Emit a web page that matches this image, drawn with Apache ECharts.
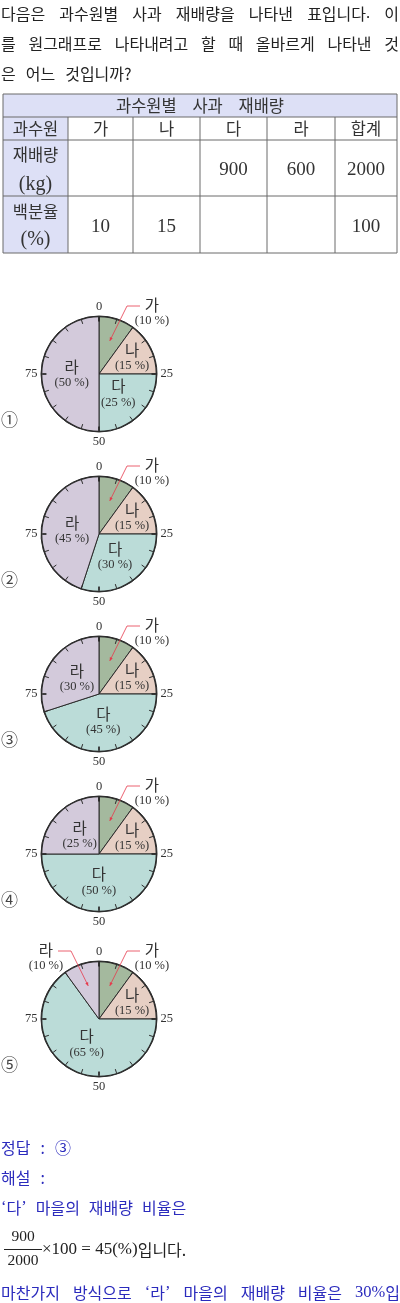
<!DOCTYPE html>
<html><head><meta charset="utf-8">
<script src="https://cdn.jsdelivr.net/npm/echarts@6/dist/echarts.min.js"></script>
<style>html,body{margin:0;padding:0;background:#fff}#c{width:400px;height:1303px}</style>
</head><body><div id="c"></div>
<script>
// ---------- data ----------
const questionLines = ['다음은 과수원별 사과 재배량을 나타낸 표입니다. 이', '를 원그래프로 나타내려고 할 때 올바르게 나타낸 것', '은 어느 것입니까?'];
const tableTitle = '과수원별 사과 재배량';
const rowHeads = ['과수원', '재배량', '(kg)', '백분율', '(%)'];
const orchards = ['가', '나', '다', '라', '합계'];
const amountsKg = [null, null, 900, 600, 2000];
const percents = [10, 15, null, null, 100];
const sliceNames = ['가', '나', '다', '라'];
const choice1 = [10, 15, 25, 50];
const choice2 = [10, 15, 30, 45];
const choice3 = [10, 15, 45, 30];
const choice4 = [10, 15, 50, 25];
const choice5 = [10, 15, 65, 10];
const choiceMarks = ['①', '②', '③', '④', '⑤'];
const quarterLabels = ['0', '25', '50', '75'];
const answerLines = ['정답 : ③', '해설 :', '‘다’ 마을의 재배량 비율은'];
const lastLine = '마찬가지 방식으로 ‘라’ 마을의 재배량 비율은 30%입';

// ---------- style / layout ----------
const KR = '"Noto Sans CJK KR", sans-serif';
const SERIF = '"Liberation Serif", "DejaVu Serif", serif';
const sliceColors = ['#a4b99e', '#e6cfc4', '#bbdcd8', '#d3cadb'];
const LINE = '#2b2b2b';
const RED = '#e63a4c';
const BLUE = '#2b2bbd';
const R = 58;
const pieCenters = [[99, 374], [99, 534], [99, 694], [99, 854], [99, 1019]];
const choices = [choice1, choice2, choice3, choice4, choice5];

const mctx = document.createElement('canvas').getContext('2d');
function tw(str, size, family) { mctx.font = size + 'px ' + family; return mctx.measureText(str).width; }

const els = [];
function T(x, y, text, size, family, color, align) {
  return { type: 'text', x: x, y: y, silent: true, z: 10,
    style: { text: text, fontSize: size, fontFamily: family, fill: color, align: align || 'left', verticalAlign: 'middle' } };
}
// word with latin parts (quotes, digits, %) in serif
function wordEl(w, x, y, size, color) {
  const parts = w.split(/([‘’0-9%.]+)/).filter(s => s.length);
  let width = 0, rich = '';
  parts.forEach(p => {
    const lat = /^[‘’0-9%.]+$/.test(p);
    width += tw(p, lat ? size + 0.5 : size, lat ? SERIF : KR);
    rich += '{' + (lat ? 'l' : 'k') + '|' + p + '}';
  });
  const el = { type: 'text', x: x, y: y, silent: true, z: 10,
    style: { text: rich, align: 'left', verticalAlign: 'middle',
      rich: { k: { fontFamily: KR, fontSize: size, fill: color }, l: { fontFamily: SERIF, fontSize: size + 0.5, fill: color } } } };
  return { el: el, width: width };
}
function words(str, x0, y, size, color, x1, gap) {
  const ws = str.split(' ').map(w => wordEl(w, 0, y, size, color));
  const sum = ws.reduce((a, b) => a + b.width, 0);
  const g = (x1 != null && ws.length > 1) ? (x1 - x0 - sum) / (ws.length - 1) : gap;
  let x = x0;
  ws.forEach(w => { w.el.x = x; els.push(w.el); x += w.width + g; });
}

const QS = 16;
// question
words(questionLines[0], 1, 14, QS, '#222', 399);
words(questionLines[1], 1, 44, QS, '#222', 399);
words(questionLines[2], 1, 74, QS, '#222', null, 10);

// table
const colX = [3, 68, 133, 200, 267, 335, 397];
const rowY = [94, 117, 140, 196, 253];
const HEAD_BG = '#dde0f6';
const TL = '#6a6a6a';
els.push({ type: 'rect', silent: true, shape: { x: colX[0], y: rowY[0], width: colX[6] - colX[0], height: rowY[1] - rowY[0] }, style: { fill: HEAD_BG } });
els.push({ type: 'rect', silent: true, shape: { x: colX[0], y: rowY[1], width: colX[1] - colX[0], height: rowY[4] - rowY[1] }, style: { fill: HEAD_BG } });
rowY.forEach(y => els.push({ type: 'line', silent: true, z: 5, shape: { x1: colX[0], y1: y, x2: colX[6], y2: y }, style: { stroke: TL, lineWidth: 1 } }));
colX.forEach((x, i) => els.push({ type: 'line', silent: true, z: 5, shape: { x1: x, y1: (i === 0 || i === 6) ? rowY[0] : rowY[1], x2: x, y2: rowY[4] }, style: { stroke: TL, lineWidth: 1 } }));
const colC = colX.slice(0, 6).map((x, i) => (x + colX[i + 1]) / 2);
const TC = '#333';
words(tableTitle, 116, 105.5, 16.5, TC, 284);
els.push(T(colC[0], 129, rowHeads[0], 16.5, KR, TC, 'center'));
els.push(T(colC[0], 155, rowHeads[1], 16.5, KR, TC, 'center'));
els.push(T(colC[0], 185, rowHeads[2], 20, SERIF, TC, 'center'));
els.push(T(colC[0], 212, rowHeads[3], 16.5, KR, TC, 'center'));
els.push(T(colC[0], 240, rowHeads[4], 20, SERIF, TC, 'center'));
orchards.forEach((o, i) => {
  els.push(T(colC[i + 1], 129, o, 16.5, KR, TC, 'center'));
  if (amountsKg[i] != null) els.push(T(colC[i + 1], 170, String(amountsKg[i]), 19, SERIF, TC, 'center'));
  if (percents[i] != null) els.push(T(colC[i + 1], 227, String(percents[i]), 19, SERIF, TC, 'center'));
});

// choice marks
choiceMarks.forEach((m, i) => els.push(T(1, pieCenters[i][1] + 46, m, 17, KR, '#444', 'left')));

// answer
words(answerLines[0], 1, 1148, QS, BLUE, null, 10);
words(answerLines[1], 1, 1178, QS, BLUE, null, 10);
words(answerLines[2], 1, 1208, QS, BLUE, null, 9);
els.push(T(23, 1237, String(amountsKg[2]), 15.5, SERIF, '#222', 'center'));
els.push({ type: 'line', silent: true, shape: { x1: 4, y1: 1249.5, x2: 42, y2: 1249.5 }, style: { stroke: '#222', lineWidth: 1 } });
els.push(T(23, 1261, String(amountsKg[4]), 15.5, SERIF, '#222', 'center'));
els.push({ type: 'text', x: 42, y: 1250, silent: true, style: {
  text: '{s|×100 = 45(%)}{k|입니다.}', verticalAlign: 'middle', align: 'left',
  rich: { s: { fontFamily: SERIF, fontSize: 17, fill: '#222' }, k: { fontFamily: KR, fontSize: QS, fill: '#222' } } } });
words(lastLine, 1, 1293, QS, BLUE, 400);

// ---------- pies ----------
function geom(vals, i) {
  const total = vals.reduce((a, b) => a + b, 0);
  let before = 0; for (let k = 0; k < i; k++) before += vals[k];
  const mid = (before + vals[i] / 2) / total * Math.PI * 2;
  return { sx: Math.sin(mid), sy: -Math.cos(mid) };
}
function makeLayout(center, vals) {
  return function (params) {
    const i = params.dataIndex;
    const { sx, sy } = geom(vals, i);
    const cx = center[0], cy = center[1];
    if (vals[i] <= 10) {
      const side = sx >= 0 ? 1 : -1;
      return { x: cx + side * 53, y: cy - 61, align: 'center', verticalAlign: 'middle' };
    }
    const f = vals[i] <= 15 ? 0.64 : 0.47;
    return { x: cx + sx * R * f, y: cy + sy * R * f + 1, align: 'center', verticalAlign: 'middle' };
  };
}

const series = [];
choices.forEach((vals, si) => {
  const center = pieCenters[si];
  series.push({
    type: 'pie', center: center, radius: R, startAngle: 90, clockwise: true,
    silent: true, animation: false, avoidLabelOverlap: false,
    itemStyle: { borderColor: LINE, borderWidth: 1 },
    label: { show: true, position: 'inside',
      formatter: p => '{k|' + p.name + '}\n{p|(' + p.value + ' %)}',
      rich: { k: { fontFamily: KR, fontSize: 15.5, color: '#333', lineHeight: 16, align: 'center' },
              p: { fontFamily: SERIF, fontSize: 12.5, color: '#333', lineHeight: 16, align: 'center' } } },
    labelLine: { show: false },
    labelLayout: makeLayout(center, vals),
    emphasis: { disabled: true },
    data: vals.map((v, i) => ({ name: sliceNames[i], value: v, itemStyle: { color: sliceColors[i] } }))
  });
  series.push({
    type: 'gauge', center: center, radius: R, startAngle: 90, endAngle: -270, min: 0, max: 100, splitNumber: 4,
    silent: true, animation: false, z: 5,
    axisLine: { lineStyle: { width: 1.3, color: [[1, LINE]] } },
    progress: { show: false },
    axisTick: { show: true, splitNumber: 5, length: 4, distance: 0, lineStyle: { color: LINE, width: 1 } },
    splitLine: { show: true, length: 4, distance: 0, lineStyle: { color: LINE, width: 1 } },
    axisLabel: { show: true, distance: -20, color: '#333', fontSize: 12.5, fontFamily: SERIF,
      formatter: v => (v >= 100 ? '' : quarterLabels[Math.round(v / 25)]) },
    pointer: { show: false }, anchor: { show: false }, title: { show: false }, detail: { show: false },
    data: [{ value: 0 }]
  });
  // red callout leaders for small slices, derived from slice mid-angle
  vals.forEach((v, i) => {
    if (v <= 10) {
      const { sx, sy } = geom(vals, i);
      const side = sx >= 0 ? 1 : -1;
      const cx = center[0], cy = center[1];
      const ix = cx + sx * R * 0.6, iy = cy + sy * R * 0.6;
      const ly = cy - 68;
      els.push({ type: 'polyline', silent: true, z: 20,
        shape: { points: [[cx + side * 41, ly], [cx + side * 28, ly], [ix, iy]] },
        style: { stroke: RED, lineWidth: 0.8, fill: null } });
      const ang = Math.atan2(iy - ly, ix - (cx + side * 28));
      const ah = 3.5, aw = 1.6;
      const bx = ix - Math.cos(ang) * ah, by = iy - Math.sin(ang) * ah;
      els.push({ type: 'polygon', silent: true, z: 20,
        shape: { points: [[ix, iy], [bx - Math.sin(ang) * aw, by + Math.cos(ang) * aw], [bx + Math.sin(ang) * aw, by - Math.cos(ang) * aw]] },
        style: { fill: RED } });
    }
  });
});

const chart = echarts.init(document.getElementById('c'), null, { renderer: 'canvas', width: 400, height: 1303 });
chart.setOption({ backgroundColor: '#fff', animation: false, series: series, graphic: { elements: els } });
</script>
</body></html>
